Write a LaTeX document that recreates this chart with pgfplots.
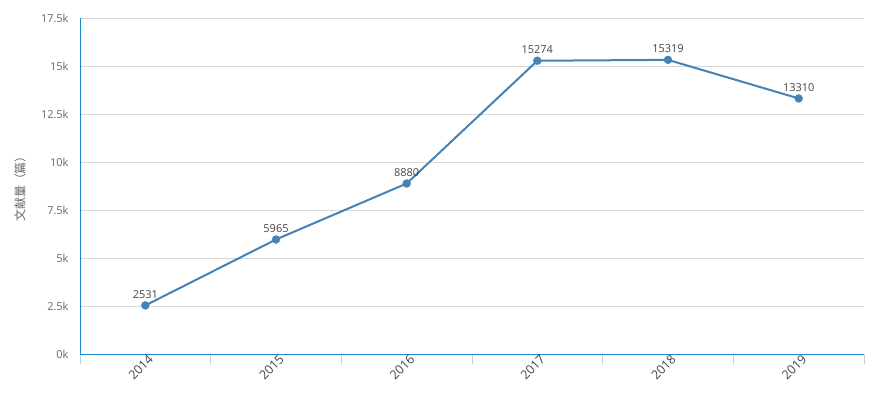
\documentclass[border=0pt]{standalone}
\usepackage{pgfplots}
\pgfplotsset{compat=1.18}
\usepackage{fontspec}
\setmainfont{Open Sans}
\newfontfamily\cjk{Noto Sans CJK SC}
\definecolor{linec}{HTML}{4682B4}
\definecolor{axc}{HTML}{1A8AD0}
\definecolor{gridc}{HTML}{D9D9D9}
\definecolor{tickc}{HTML}{C0D0E0}
\definecolor{txt}{HTML}{666666}
\definecolor{dtxt}{HTML}{444444}
\begin{document}
\begin{tikzpicture}
\path[use as bounding box] (-80bp,-62bp) rectangle (800bp,354bp);
\begin{axis}[
  at={(0,0)}, anchor=south west, scale only axis,
  width=784bp, height=336bp,
  xmin=-0.5, xmax=5.5, ymin=0, ymax=17500,
  axis x line=bottom, axis y line=left,
  axis line style={-, axc, line width=0.9pt},
  xtick={0,1,2,3,4,5},
  xticklabels={2014,2015,2016,2017,2018,2019},
  minor xtick={-0.5,0.5,1.5,2.5,3.5,4.5,5.5},
  major tick length=0pt, minor tick length=10bp,
  tick align=outside,
  minor tick style={tickc, line width=0.8pt},
  ytick={0,2500,5000,7500,10000,12500,15000,17500},
  yticklabels={0k,2.5k,5k,7.5k,10k,12.5k,15k,17.5k},
  scaled y ticks=false,
  ymajorgrids,
  major grid style={gridc, line width=0.6pt},
  yticklabel style={font=\fontsize{11}{13}\selectfont, text=txt, xshift=-8bp},
  xticklabel style={font=\fontsize{12.5}{14}\selectfont, text=dtxt, rotate=45, anchor=east, inner sep=1bp, yshift=-6bp, xshift=3bp},
  ylabel={\cjk 文献量（篇）},
  ylabel style={at={(axis description cs:0,0.5)}, anchor=center, rotate=0, yshift=60bp, font=\fontsize{12}{14}\selectfont, text=txt},
  /pgf/number format/assume math mode=true,
  /pgf/number format/1000 sep={},
  nodes near coords,
  nodes near coords style={font=\fontsize{11}{13}\selectfont, text=dtxt, anchor=south, inner sep=0pt, yshift=7bp},
  clip=false,
]
\addplot[color=linec, line width=2bp, mark=*, mark size=4bp, mark options={fill=linec, draw=linec, line width=0.3bp}]
  coordinates {(0,2531) (1,5965) (2,8880) (3,15274) (4,15319) (5,13310)};
\end{axis}
\end{tikzpicture}
\end{document}
